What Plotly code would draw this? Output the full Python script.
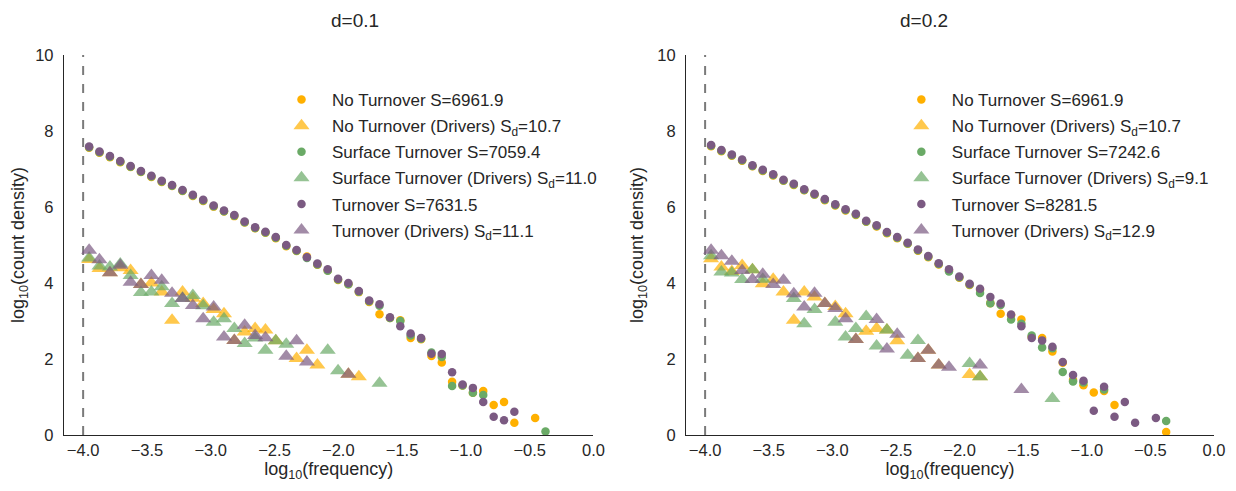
import plotly.graph_objects as go

# ---------------- data ----------------
x_bins = [-3.953, -3.872, -3.790, -3.709, -3.628, -3.547, -3.465, -3.384, -3.303, -3.221,
          -3.140, -3.059, -2.977, -2.896, -2.815, -2.734, -2.652, -2.571, -2.490, -2.408,
          -2.327, -2.246, -2.164, -2.083, -2.002, -1.921, -1.839, -1.758, -1.677, -1.595,
          -1.514, -1.433, -1.351, -1.270, -1.189, -1.108, -1.026, -0.945, -0.864, -0.782,
          -0.701, -0.620, -0.538, -0.457, -0.376]

# d = 0.1
L_no = [7.56, 7.43, 7.31, 7.18, 7.05, 6.92, 6.79, 6.66, 6.55, 6.42, 6.29, 6.16, 6.01, 5.88, 5.76,
        5.59, 5.44, 5.32, 5.18, 4.97, 4.84, 4.70, 4.48, 4.33, 4.08, 3.97, 3.76, 3.50, 3.18, 3.08,
        3.02, 2.55, 2.52, 2.08, 1.91, 1.40, 1.30, 1.11, 1.16, 0.79, 0.87, 0.32, None, 0.45, None]
L_surf = [7.57, 7.44, 7.32, 7.19, 7.06, 6.93, 6.80, 6.67, 6.56, 6.43, 6.30, 6.17, 6.02, 5.89, 5.77,
          5.60, 5.45, 5.33, 5.19, 4.98, 4.85, 4.66, 4.49, 4.32, 4.09, 3.97, 3.77, 3.52, 3.40, 3.08,
          3.00, 2.62, 2.53, 2.17, 2.05, 1.29, 1.30, 1.11, 1.05, None, None, None, None, None, 0.09]
L_turn = [7.59, 7.46, 7.34, 7.21, 7.08, 6.95, 6.82, 6.69, 6.58, 6.45, 6.32, 6.19, 6.04, 5.91, 5.79,
          5.62, 5.47, 5.35, 5.21, 5.00, 4.87, 4.68, 4.51, 4.36, 4.11, 4.00, 3.79, 3.54, 3.44, 3.10,
          2.86, 2.67, 2.55, 2.14, 2.13, 1.65, 1.33, 1.24, 0.87, 0.48, 0.39, 0.61]
L_no_d = [4.62, 4.38, 4.27, 4.40, 4.33, 3.96, 4.00, 3.76, 3.02, 3.76, 3.60, 3.46, 3.30, 3.19, 2.49,
          2.71, 2.80, 2.76, 2.48, None, 2.01, 2.23, 1.84, None, None, 1.60, 1.53]
L_surf_d = [4.66, 4.45, 4.42, 4.50, 4.20, 3.75, 3.76, 3.90, 3.46, 3.60, 3.67, 3.40, 2.97, 3.06, 2.80,
            2.41, 2.55, 2.23, 2.48, 2.39, None, None, None, 2.23, 1.69, None, None, None, 1.36]
L_turn_d = [4.86, 4.61, 4.27, 4.47, 4.02, 3.96, 4.20, 4.07, 3.73, 3.59, 3.41, 3.06, 3.37, 2.58, 2.49,
            2.89, 2.62, 2.56, None, 2.07, 2.48, 1.92, None, None, None, 1.60]

# d = 0.2
R_no = [7.60, 7.47, 7.35, 7.22, 7.07, 6.95, 6.83, 6.69, 6.58, 6.44, 6.32, 6.18, 6.04, 5.91, 5.79,
        5.61, 5.49, 5.31, 5.18, 5.03, 4.85, 4.68, 4.49, 4.33, 4.14, 3.95, 3.82, 3.47, 3.19, 3.15,
        3.04, 2.58, 2.55, 2.20, 1.90, 1.45, 1.31, 1.12, 1.16, 0.79, None, None, None, None, 0.08]
R_surf = [7.61, 7.48, 7.36, 7.23, 7.08, 6.96, 6.84, 6.70, 6.59, 6.45, 6.33, 6.19, 6.05, 5.92, 5.80,
          5.62, 5.50, 5.32, 5.19, 5.04, 4.86, 4.69, 4.50, 4.30, 4.15, 3.96, 3.74, 3.47, 3.42, 3.04,
          2.93, 2.62, 2.30, 2.28, 1.66, 1.41, 1.38, None, 1.20, None, None, None, None, None, 0.37]
R_turn = [7.63, 7.50, 7.38, 7.25, 7.10, 6.98, 6.86, 6.72, 6.61, 6.47, 6.35, 6.21, 6.07, 5.94, 5.82,
          5.64, 5.52, 5.34, 5.21, 5.06, 4.88, 4.71, 4.52, 4.36, 4.17, 3.98, 3.85, 3.63, 3.46, 3.17,
          2.86, 2.55, 2.49, 2.32, 1.92, 1.58, 1.43, 0.64, 1.27, 0.48, 0.87, 0.32, None, 0.45]
R_no_d = [4.64, 4.42, 4.30, 4.46, 4.35, 3.98, 4.10, 3.76, 3.02, 3.76, 3.63, 3.46, 3.38, 3.19, 2.51,
          2.73, 2.80, 2.76, 2.48, None, 2.01, 2.23, 1.84, None, None, 1.59, 1.53]
R_surf_d = [4.72, 4.29, 4.26, 4.09, 4.35, 4.10, None, None, 3.59, 2.93, 3.30, None, 2.97, 2.58, 2.80,
            3.12, 2.34, 2.76, None, 2.10, 2.49, None, None, None, None, 1.88, 1.53, None, None, None,
            None, None, None, 0.96]
R_turn_d = [4.86, 4.72, 4.57, 4.33, 4.09, 4.23, 3.96, 4.07, 3.72, 3.37, 3.73, 3.46, 3.33, 3.06, 2.51,
            None, 3.04, 2.26, 2.65, None, 2.01, 2.23, 1.84, 1.78, None, None, 1.84, None, None, None,
            1.20]

names_L = ["No Turnover S=6961.9", "No Turnover (Drivers) S<sub>d</sub>=10.7",
           "Surface Turnover S=7059.4", "Surface Turnover (Drivers) S<sub>d</sub>=11.0",
           "Turnover S=7631.5", "Turnover (Drivers) S<sub>d</sub>=11.1"]
names_R = ["No Turnover S=6961.9", "No Turnover (Drivers) S<sub>d</sub>=10.7",
           "Surface Turnover S=7242.6", "Surface Turnover (Drivers) S<sub>d</sub>=9.1",
           "Turnover S=8281.5", "Turnover (Drivers) S<sub>d</sub>=12.9"]
titles = ["d=0.1", "d=0.2"]
x_ticks = [-4.0, -3.5, -3.0, -2.5, -2.0, -1.5, -1.0, -0.5, 0.0]
y_ticks = [0, 2, 4, 6, 8, 10]
cutoff = -4.0

# ---------------- style ----------------
C_ORANGE = "#FFB000"
C_GREEN = "#6AAA66"
C_PURPLE = "#7B5A82"
FONT = "Liberation Sans, Arial, sans-serif"
TXT = "#262626"

fig = go.Figure()

panels = [
    ("x", "y", "legend", names_L, [L_no, L_no_d, L_surf, L_surf_d, L_turn, L_turn_d]),
    ("x2", "y2", "legend2", names_R, [R_no, R_no_d, R_surf, R_surf_d, R_turn, R_turn_d]),
]
colors = [C_ORANGE, C_ORANGE, C_GREEN, C_GREEN, C_PURPLE, C_PURPLE]

for xa, ya, lg, names, series in panels:
    for k, (name, ys) in enumerate(zip(names, series)):
        drivers = (k % 2 == 1)
        fig.add_trace(go.Scatter(
            x=x_bins[:len(ys)], y=ys, mode="markers", name=name,
            xaxis=xa, yaxis=ya, legend=lg, legendgroup=f"{lg}_{k}",
            marker=dict(
                symbol="triangle-up" if drivers else "circle",
                size=14 if drivers else 8.5,
                color=colors[k],
                opacity=0.7 if drivers else 1.0,
                line=dict(width=0),
            ),
        ))
    fig.add_shape(type="line", xref=xa, yref=ya, x0=cutoff, x1=cutoff, y0=0, y1=10,
                  line=dict(color="#7a7a7a", width=2, dash="dash"), layer="below")

axis_common = dict(showline=True, linecolor=TXT, linewidth=1.3, showgrid=False, zeroline=False,
                   ticks="", automargin=False, tickfont=dict(family=FONT, size=16.5, color=TXT))
xdef = dict(axis_common, range=[-4.15, 0.0], tickvals=x_ticks, tickformat=".1f",
            ticklabelstandoff=0,
            title=dict(text="log<sub>10</sub>(frequency)", font=dict(family=FONT, size=18, color=TXT),
                       standoff=0))
ydef = dict(axis_common, range=[0, 10], tickvals=y_ticks, ticklabelstandoff=6,
            title=dict(text="log<sub>10</sub>(count density)", font=dict(family=FONT, size=18, color=TXT),
                       standoff=8))

legdef = dict(font=dict(family=FONT, size=17, color=TXT), bgcolor="rgba(0,0,0,0)",
              tracegroupgap=1, itemsizing="trace", itemwidth=51, yanchor="top", xanchor="left")

# page body has an 8px margin, so the figure is sized to sit inside it
fig.update_layout(
    width=1220, height=475,
    margin=dict(l=56, r=14, t=47, b=47.5),
    paper_bgcolor="white", plot_bgcolor="white",
    font=dict(family=FONT, color=TXT),
    xaxis=dict(xdef, domain=[0, 0.4604], anchor="y"),
    yaxis=dict(ydef, domain=[0, 1], anchor="x"),
    xaxis2=dict(xdef, domain=[0.5409, 1], anchor="y2"),
    yaxis2=dict(ydef, domain=[0, 1], anchor="x2"),
    legend=dict(legdef, x=0.180, y=0.929),
    legend2=dict(legdef, x=0.719, y=0.929),
    annotations=[
        dict(text=titles[0], xref="paper", yref="paper", x=0.2302, y=1.0, yshift=35,
             yanchor="middle", showarrow=False, font=dict(family=FONT, size=19, color=TXT)),
        dict(text=titles[1], xref="paper", yref="paper", x=0.7704, y=1.0, yshift=35,
             yanchor="middle", showarrow=False, font=dict(family=FONT, size=19, color=TXT)),
    ],
)

fig.write_html("out.html")
